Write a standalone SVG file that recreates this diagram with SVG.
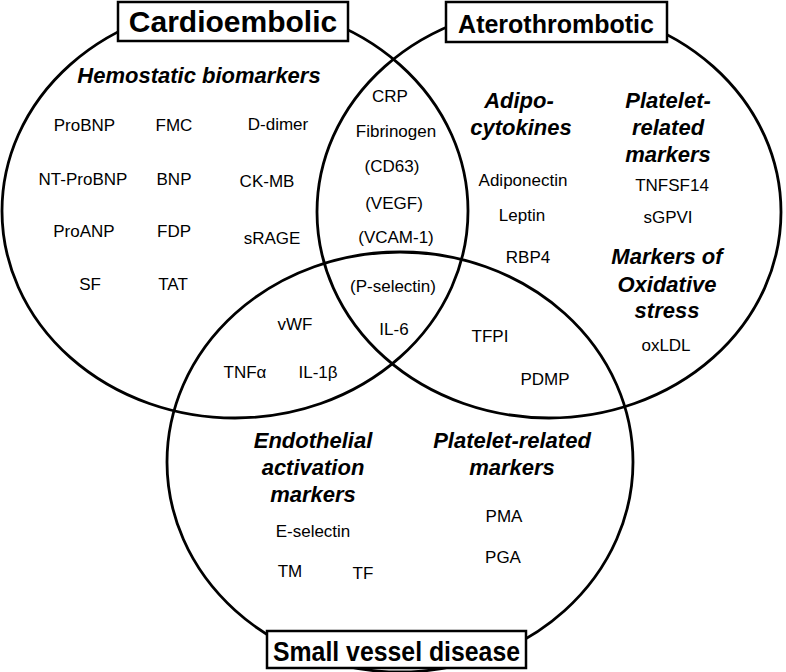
<svg xmlns="http://www.w3.org/2000/svg" width="786" height="672" viewBox="0 0 786 672">
<style>
.c{fill:none;stroke:#000;stroke-width:2.8}
.box{fill:#fff;stroke:#000;stroke-width:2.5}
.t{font-family:"Liberation Sans",Arial,sans-serif;font-size:17px;fill:#000;text-anchor:middle}
.h{font-family:"Liberation Sans",Arial,sans-serif;font-size:22px;font-weight:bold;font-style:italic;fill:#000;text-anchor:middle}
.title{font-family:"Liberation Sans",Arial,sans-serif;font-weight:bold;fill:#000;text-anchor:middle}
</style>
<rect width="786" height="672" fill="#fff"/>
<g id="sets">
<ellipse id="set-cardio" class="c" cx="235" cy="211" rx="233" ry="207"/>
<ellipse id="set-athero" class="c" cx="549" cy="212" rx="232" ry="206"/>
<ellipse id="set-svd" class="c" cx="400" cy="462" rx="233" ry="210"/>
</g>
<g id="label-cardio">
<rect class="box" x="118" y="2" width="230" height="39"/>
<text class="title" x="233" y="32" font-size="30">Cardioembolic</text>
</g>
<g id="label-athero">
<rect class="box" x="446" y="2" width="221" height="40"/>
<text class="title" x="556" y="33" font-size="25">Aterothrombotic</text>
</g>
<g id="label-svd">
<rect class="box" x="267" y="631" width="259" height="37"/>
<text class="title" x="396.5" y="661" font-size="27" textLength="247" lengthAdjust="spacingAndGlyphs">Small vessel disease</text>
</g>
<g id="cardio-only">
<text class="h" x="199" y="83">Hemostatic biomarkers</text>
<text class="t" x="84.5" y="131">ProBNP</text>
<text class="t" x="174" y="131">FMC</text>
<text class="t" x="278" y="130">D-dimer</text>
<text class="t" x="83" y="185">NT-ProBNP</text>
<text class="t" x="174" y="185">BNP</text>
<text class="t" x="267" y="187">CK-MB</text>
<text class="t" x="84" y="237">ProANP</text>
<text class="t" x="174" y="237">FDP</text>
<text class="t" x="272" y="244">sRAGE</text>
<text class="t" x="90" y="290">SF</text>
<text class="t" x="173" y="290">TAT</text>
</g>
<g id="cardio-athero">
<text class="t" x="390" y="102">CRP</text>
<text class="t" x="396" y="137">Fibrinogen</text>
<text class="t" x="392" y="172">(CD63)</text>
<text class="t" x="394" y="209">(VEGF)</text>
<text class="t" x="396" y="243">(VCAM-1)</text>
</g>
<g id="all-three">
<text class="t" x="393" y="292">(P-selectin)</text>
<text class="t" x="394" y="335">IL-6</text>
</g>
<g id="cardio-svd">
<text class="t" x="295" y="330">vWF</text>
<text class="t" x="245" y="378">TNFα</text>
<text class="t" x="318" y="378">IL-1β</text>
</g>
<g id="athero-only">
<text class="h" x="519" y="108">Adipo-</text>
<text class="h" x="521" y="135">cytokines</text>
<text class="t" x="523" y="186">Adiponectin</text>
<text class="t" x="522" y="221">Leptin</text>
<text class="t" x="528" y="263">RBP4</text>
<text class="h" x="668" y="108">Platelet-</text>
<text class="h" x="668" y="135">related</text>
<text class="h" x="668" y="162">markers</text>
<text class="t" x="672" y="191">TNFSF14</text>
<text class="t" x="668" y="223">sGPVI</text>
<text class="h" x="667" y="264">Markers of</text>
<text class="h" x="667" y="292">Oxidative</text>
<text class="h" x="667" y="318">stress</text>
<text class="t" x="666" y="351">oxLDL</text>
</g>
<g id="athero-svd">
<text class="t" x="490" y="342">TFPI</text>
<text class="t" x="545" y="385">PDMP</text>
</g>
<g id="svd-only">
<text class="h" x="313" y="448">Endothelial</text>
<text class="h" x="313" y="475">activation</text>
<text class="h" x="313" y="502">markers</text>
<text class="t" x="313" y="537">E-selectin</text>
<text class="t" x="290" y="577">TM</text>
<text class="t" x="363" y="579">TF</text>
<text class="h" x="512" y="448">Platelet-related</text>
<text class="h" x="512" y="475">markers</text>
<text class="t" x="504" y="522">PMA</text>
<text class="t" x="503" y="563">PGA</text>
</g>
</svg>
